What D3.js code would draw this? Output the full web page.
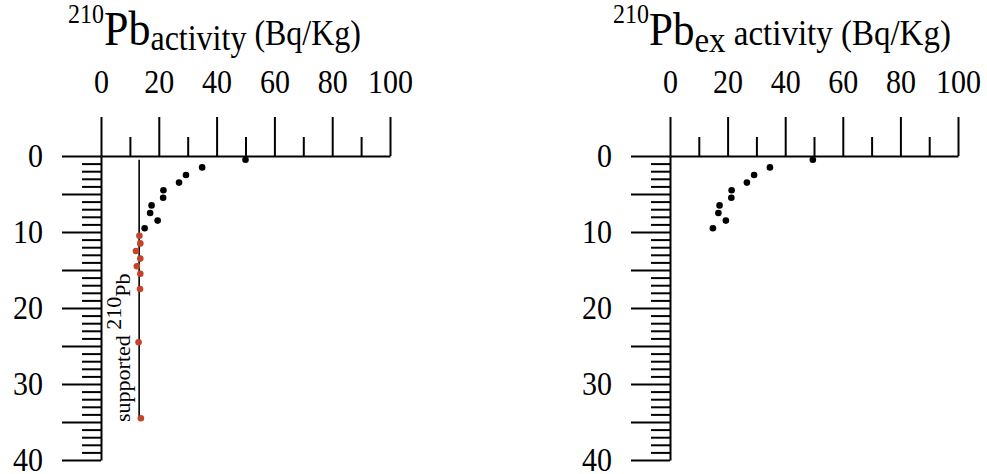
<!DOCTYPE html>
<html>
<head>
<meta charset="utf-8">
<script src="https://cdn.jsdelivr.net/npm/d3@7"></script>
<style>
  html, body { margin: 0; padding: 0; background: #fff; }
  svg { display: block; font-family: "Liberation Serif", "Times New Roman", serif; }
  .axis path, .axis line { stroke: #000; stroke-width: 2; }
  .axis text { fill: #000; font-family: "Liberation Serif", "Times New Roman", serif; }
</style>
</head>
<body>
<svg id="chart" width="987" height="474"></svg>
<script>
// Sample depths (cm) for the upper core section
const depthUpper = [0.5, 1.5, 2.5, 3.5, 4.5, 5.5, 6.5, 7.5, 8.5, 9.5];
// Total 210Pb activity (Bq/Kg) at those depths
const totalActivity = [50, 35, 29.4, 27, 21.6, 21.5, 17.5, 17, 19.6, 15.1];
// Excess 210Pb activity (Bq/Kg) at those depths
const excessActivity = [49.6, 34.7, 29.2, 26.7, 21.4, 21.3, 17.2, 16.8, 19.4, 14.9];
// Deeper samples at the supported level
const depthDeep = [10.5, 11.5, 12.5, 13.5, 14.5, 15.5, 17.5, 24.5, 34.5];
const supportedActivity = [13.3, 13.6, 12.1, 13.6, 12.4, 13.6, 13.5, 13.0, 13.8];
// Supported 210Pb level and the depth range it is drawn over
const supportedLevel = 13.2;
const supportedRange = [0.5, 34.5];

// Axis ticks
const xMajorTicks = [0, 20, 40, 60, 80, 100];
const xMinorTicks = [10, 30, 50, 70, 90];
const yLabelTicks = [0, 10, 20, 30, 40];
const yMidTicks = [5, 15, 25, 35];
const yMinorTicks = d3.range(0, 41).filter(d => d % 5 !== 0);

const svg = d3.select("#chart");
const FONT = 30;
const STRETCH = 1.1; // tall serif lettering

// stretch a text vertically about its own baseline
function tall(sel, baseY) {
  sel.attr("transform", `translate(0,${baseY}) scale(1,${STRETCH}) translate(0,${-baseY})`);
}

function panel(x0, x1) {
  const x = d3.scaleLinear().domain([0, 100]).range([x0, x1]);
  const y = d3.scaleLinear().domain([0, 40]).range([156, 460]);
  const g = svg.append("g");

  // Top activity axis: long ticks labelled, short ticks between
  g.append("g").attr("class", "axis").attr("transform", "translate(0,156)")
    .call(d3.axisTop(x).tickValues(xMajorTicks).tickSize(39).tickSizeOuter(0).tickPadding(24))
    .call(a => a.selectAll("text").attr("font-size", FONT).attr("dy", "0").call(tall, -63));
  g.append("g").attr("class", "axis").attr("transform", "translate(0,156)")
    .call(d3.axisTop(x).tickValues(xMinorTicks).tickSize(19).tickSizeOuter(0).tickFormat(""))
    .call(a => a.select(".domain").remove());

  // Left depth axis
  g.append("g").attr("class", "axis").attr("transform", `translate(${x0},0)`)
    .call(d3.axisLeft(y).tickValues(yLabelTicks).tickSize(39).tickSizeOuter(0).tickPadding(19))
    .call(a => a.selectAll("text").attr("font-size", FONT).call(tall, 0));
  g.append("g").attr("class", "axis").attr("transform", `translate(${x0},0)`)
    .call(d3.axisLeft(y).tickValues(yMidTicks).tickSize(39).tickSizeOuter(0).tickFormat(""))
    .call(a => a.select(".domain").remove());
  g.append("g").attr("class", "axis").attr("transform", `translate(${x0},0)`)
    .call(d3.axisLeft(y).tickValues(yMinorTicks).tickSize(19).tickSizeOuter(0).tickFormat(""))
    .call(a => a.select(".domain").remove());

  return { g, x, y };
}

// ---- Left: total 210Pb activity ----
const L = panel(101, 390);

L.g.append("line")
  .attr("x1", L.x(supportedLevel)).attr("x2", L.x(supportedLevel))
  .attr("y1", L.y(supportedRange[0])).attr("y2", L.y(supportedRange[1]))
  .attr("stroke", "#000").attr("stroke-width", 1.6);

L.g.selectAll("circle.total").data(depthUpper).join("circle")
  .attr("class", "total")
  .attr("cx", (d, i) => L.x(totalActivity[i])).attr("cy", d => L.y(d))
  .attr("r", 3.3).attr("fill", "#000");

L.g.selectAll("circle.supp").data(depthDeep).join("circle")
  .attr("class", "supp")
  .attr("cx", (d, i) => L.x(supportedActivity[i])).attr("cy", d => L.y(d))
  .attr("r", 3.3).attr("fill", "#c4442a");

const sl = L.g.append("text")
  .attr("transform", "translate(130,422) rotate(-90)")
  .attr("font-size", 22);
sl.append("tspan").text("supported ");
sl.append("tspan").attr("dy", -9).text("210");
sl.append("tspan").attr("dy", 9).text("Pb");

const t1 = svg.append("text").attr("x", 68).attr("y", 45).attr("font-size", 32).call(tall, 45);
t1.append("tspan").attr("font-size", 24).attr("dy", -20).text("210");
t1.append("tspan").attr("font-size", 44).attr("dy", 20).text("Pb");
t1.append("tspan").attr("dy", 5).text("activity");
t1.append("tspan").attr("dy", -5).text(" (Bq/Kg)");

// ---- Right: excess 210Pb activity ----
const R = panel(670, 958);

R.g.selectAll("circle.ex").data(depthUpper).join("circle")
  .attr("class", "ex")
  .attr("cx", (d, i) => R.x(excessActivity[i])).attr("cy", d => R.y(d))
  .attr("r", 3.3).attr("fill", "#000");

const t2 = svg.append("text").attr("x", 613).attr("y", 45).attr("font-size", 33).call(tall, 45);
t2.append("tspan").attr("font-size", 24).attr("dy", -20).text("210");
t2.append("tspan").attr("font-size", 43).attr("dy", 20).text("Pb");
t2.append("tspan").attr("dy", 6).text("ex");
t2.append("tspan").attr("dy", -6).text(" activity (Bq/Kg)");
</script>
</body>
</html>
